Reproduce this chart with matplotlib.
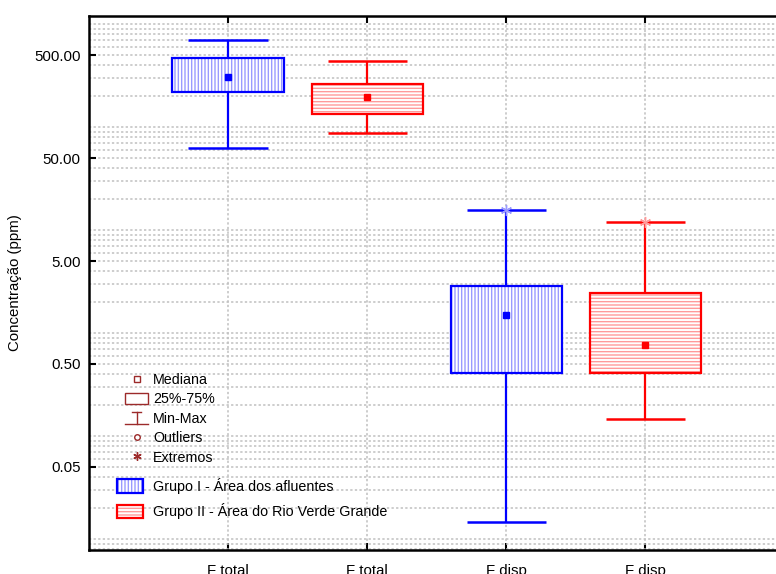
import numpy as np
import matplotlib
matplotlib.use('Agg')
import matplotlib.pyplot as plt
from matplotlib.lines import Line2D
from matplotlib.patches import Patch
from matplotlib.legend_handler import HandlerBase, HandlerTuple
from matplotlib.ticker import FixedLocator, FuncFormatter, LogLocator, NullFormatter

plt.rcParams['font.family'] = ['Liberation Sans', 'DejaVu Sans']
plt.rcParams['hatch.linewidth'] = 1.0

# box statistics (ppm)
labels = ['F total', 'F total', 'F disp', 'F disp']
groups = [0, 1, 0, 1]          # 0 = Grupo I, 1 = Grupo II
v_min = [63, 87, 0.0147, 0.146]
v_q1 = [217, 134, 0.406, 0.406]
v_med = [306, 194, 1.50, 0.764]
v_q3 = [464, 265, 2.86, 2.46]
v_max = [694, 434, 15.6, 12.1]
v_extreme = [np.nan, np.nan, 15.6, 12.1]

group_names = ['Grupo I - Área dos afluentes', 'Grupo II - Área do Rio Verde Grande']
line_colors = ['#0000ff', '#ff0000']
hatch_colors = ['#9a9aff', '#ff9a9a']
hatches = ['|||||', '-----']
legend_red = '#9c2a2a'

fig = plt.figure(figsize=(7.76, 5.74), dpi=100)
ax = fig.add_axes([89 / 776, 24 / 574, 1 - 89 / 776, 534 / 574])

x = np.arange(1, len(labels) + 1)
box_w = 0.8
cap_w = 0.57

for i in range(len(labels)):
    g = groups[i]
    c = line_colors[g]
    # hatched fill
    ax.bar(x[i], v_q3[i] - v_q1[i], bottom=v_q1[i], width=box_w, facecolor='white',
           edgecolor=hatch_colors[g], hatch=hatches[g], linewidth=0, zorder=3)
    # box outline
    ax.bar(x[i], v_q3[i] - v_q1[i], bottom=v_q1[i], width=box_w, fill=False,
           edgecolor=c, linewidth=1.6, zorder=4)
    # whiskers
    ax.vlines(x[i], v_q3[i], v_max[i], color=c, lw=1.6, zorder=3)
    ax.vlines(x[i], v_min[i], v_q1[i], color=c, lw=1.6, zorder=3)
    ax.hlines([v_min[i], v_max[i]], x[i] - cap_w / 2, x[i] + cap_w / 2, color=c, lw=1.8, zorder=3)
    # median
    ax.plot(x[i], v_med[i], 's', color=c, ms=5, zorder=5)
    # extremes
    if not np.isnan(v_extreme[i]):
        ax.plot(x[i], v_extreme[i], marker=(6, 2, 0), color=hatch_colors[g], ms=8,
                mew=1.0, ls='none', zorder=5)

ax.set_yscale('log')
ax.set_ylim(0.0078, 1200)
ax.set_xlim(0, 4.94)

ax.yaxis.set_major_locator(FixedLocator([0.05, 0.5, 5, 50, 500]))
ax.yaxis.set_major_formatter(FuncFormatter(lambda v, p: f'{v:.2f}'))
ax.yaxis.set_minor_locator(LogLocator(base=10, subs=np.arange(1, 10), numticks=20))
ax.yaxis.set_minor_formatter(NullFormatter())

ax.set_xticks(x)
ax.set_xticklabels(labels)

grid_kw = dict(color='#c0c0c0', linestyle=(0, (1.5, 1.5)), linewidth=1.1)
ax.grid(True, which='both', axis='y', **grid_kw)
ax.grid(True, which='major', axis='x', **grid_kw)
ax.set_axisbelow(True)

ax.tick_params(axis='both', which='major', direction='in', length=5, width=1.5,
               labelsize=10.8, colors='black')
ax.tick_params(axis='x', top=True, pad=10)
ax.tick_params(axis='y', pad=6)
ax.tick_params(axis='y', which='minor', length=0)

for s in ['left', 'top', 'bottom']:
    ax.spines[s].set_linewidth(1.8)
ax.spines['right'].set_visible(False)

ax.set_ylabel('Concentração (ppm)', fontsize=10.8, labelpad=9)


class MinMaxHandler(HandlerBase):
    def create_artists(self, legend, orig_handle, xdescent, ydescent, width, height,
                       fontsize, trans):
        c = orig_handle.get_color()
        cx = width / 2 - xdescent
        y0 = -ydescent
        arts = [
            Line2D([cx - width * 0.2, cx + width * 0.2], [y0 + height, y0 + height]),
            Line2D([cx, cx], [y0, y0 + height]),
            Line2D([-xdescent, width - xdescent], [y0, y0]),
        ]
        for a in arts:
            a.set_color(c)
            a.set_linewidth(1.0)
            a.set_transform(trans)
        return arts


fs_leg = 10.3
h_med = Line2D([], [], ls='none', marker='s', mfc='white', mec=legend_red, ms=5, mew=1.0)
h_box = Patch(facecolor='white', edgecolor=legend_red, linewidth=1.0)
h_mm = Line2D([], [], color=legend_red)
h_out = Line2D([], [], ls='none', marker='o', mfc='white', mec=legend_red, ms=4, mew=1.0)
h_ext = Line2D([], [], ls='none', marker=(6, 2, 0), color=legend_red, ms=6, mew=1.0)

leg1 = ax.legend([h_med, h_box, h_mm, h_out, h_ext],
                 ['Mediana', '25%-75%', 'Min-Max', 'Outliers', 'Extremos'],
                 handler_map={h_mm: MinMaxHandler()},
                 loc='upper left', bbox_to_anchor=((125 - 89) / 687, (550 - 373) / 534),
                 frameon=False, fontsize=fs_leg, handlelength=23 / 14.3, handletextpad=5 / 14.3,
                 handleheight=0.85, labelspacing=0.38, borderpad=0, borderaxespad=0)
ax.add_artist(leg1)

grp_handles = [(Patch(facecolor='white', edgecolor=hatch_colors[g], hatch=hatches[g], linewidth=0),
                Patch(fill=False, edgecolor=line_colors[g], linewidth=1.6))
               for g in range(2)]
leg2 = ax.legend(grp_handles, group_names,
                 handler_map={tuple: HandlerTuple(ndivide=1, pad=0)},
                 loc='upper left', bbox_to_anchor=((117 - 89) / 687, (550 - 478) / 534),
                 frameon=False, fontsize=fs_leg, handlelength=26 / 14.3, handletextpad=10 / 14.3,
                 handleheight=1.05, labelspacing=0.65, borderpad=0, borderaxespad=0)

fig.savefig('out.png', dpi=100)
